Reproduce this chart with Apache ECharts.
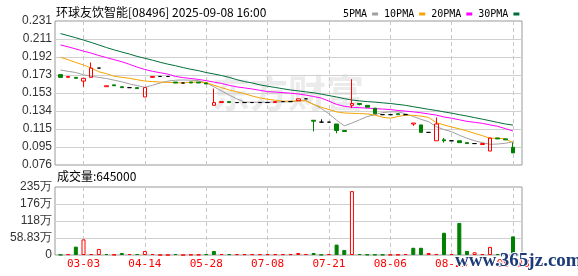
<!DOCTYPE html>
<html><head><meta charset="utf-8">
<script src="https://cdn.jsdelivr.net/npm/echarts@6/dist/echarts.min.js"></script>
<style>html,body{margin:0;padding:0;background:#fff}#c{width:578px;height:276px}</style>
</head><body><div id="c"></div>
<script>
const dates = ['02-24','02-26','02-28','03-03','03-07','03-12','03-17','03-21','03-26','03-31',
'04-08','04-14','04-17','04-24','04-29','05-06','05-12','05-16','05-22','05-28',
'06-03','06-09','06-13','06-18','06-23','06-26','06-30','07-08','07-10','07-11',
'07-14','07-15','07-16','07-17','07-18','07-21','07-22','07-23','07-24','07-25',
'07-28','07-29','07-30','08-06','08-07','08-11','08-13','08-15','08-18','08-20',
'08-22','08-25','08-26','08-27','08-28','08-29','09-01','09-02','09-04','09-08'];
const labelDates = ['03-03','04-14','05-28','07-08','07-21','08-06','08-25','09-08'];
// [open, close, low, high]
const ohlc = [
[0.173,0.170,0.170,0.173],[0.170,0.171,0.170,0.171],[0.170,0.169,0.169,0.170],[0.166,0.169,0.160,0.169],
[0.170,0.180,0.170,0.186],[0.180,0.180,0.180,0.180],[0.160,0.161,0.160,0.161],[0.162,0.161,0.161,0.162],
[0.160,0.159,0.159,0.160],[0.159,0.159,0.159,0.159],[0.159,0.158,0.158,0.159],[0.149,0.159,0.149,0.159],
[0.170,0.171,0.170,0.171],[0.171,0.171,0.171,0.171],[0.171,0.171,0.171,0.171],[0.165,0.164,0.164,0.165],
[0.164,0.164,0.164,0.164],[0.165,0.164,0.164,0.165],[0.165,0.164,0.164,0.165],[0.164,0.163,0.163,0.164],
[0.140,0.143,0.140,0.158],[0.143,0.144,0.143,0.144],[0.144,0.143,0.143,0.144],[0.143,0.143,0.143,0.143],
[0.143,0.143,0.143,0.143],[0.143,0.143,0.143,0.143],[0.143,0.143,0.143,0.143],[0.143,0.143,0.143,0.143],
[0.143,0.144,0.143,0.144],[0.144,0.144,0.144,0.144],[0.144,0.144,0.144,0.144],[0.145,0.147,0.145,0.147],
[0.147,0.147,0.147,0.147],[0.124,0.123,0.112,0.124],[0.122,0.122,0.122,0.125],[0.122,0.122,0.122,0.122],
[0.120,0.113,0.110,0.120],[0.113,0.112,0.112,0.113],[0.140,0.142,0.137,0.168],[0.142,0.141,0.140,0.142],
[0.140,0.138,0.138,0.140],[0.137,0.131,0.131,0.137],[0.130,0.130,0.130,0.130],[0.130,0.130,0.130,0.130],
[0.131,0.130,0.130,0.131],[0.130,0.130,0.130,0.130],[0.120,0.121,0.118,0.121],[0.119,0.111,0.111,0.119],
[0.111,0.111,0.111,0.111],[0.102,0.120,0.102,0.127],[0.103,0.102,0.100,0.105],[0.102,0.102,0.102,0.102],
[0.102,0.100,0.100,0.102],[0.100,0.099,0.099,0.100],[0.099,0.099,0.099,0.099],[0.098,0.099,0.098,0.099],
[0.091,0.105,0.091,0.105],[0.105,0.104,0.104,0.105],[0.104,0.103,0.103,0.104],[0.095,0.089,0.089,0.100]];
const volumes = [10000,30000,290000,540000,35000,210000,35000,10000,70000,35000,
35000,140000,35000,0,0,35000,0,10000,10000,30000,
140000,35000,30000,30000,30000,30000,30000,30000,30000,30000,
30000,70000,35000,70000,10000,35000,360000,175000,2210000,35000,
15000,15000,10000,10000,10000,35000,250000,250000,70000,35000,
770000,35000,1110000,140000,95000,35000,280000,35000,35000,645000];
const ma5 = [0.1779,0.1765,0.1752,0.1728,0.1712,0.1700,0.1688,0.1670,0.1652,0.1630,
0.1612,0.1594,0.1615,0.1640,0.1660,0.1670,0.1672,0.1670,0.1665,0.1640,
0.1600,0.1555,0.1510,0.1470,0.1434,0.1434,0.1434,0.1434,0.1436,0.1438,
0.1440,0.1446,0.1452,0.1410,0.1366,0.1310,0.1240,0.1180,0.1210,0.1245,
0.1280,0.1300,0.1322,0.1330,0.1330,0.1310,0.1280,0.1250,0.1225,0.1170,
0.1140,0.1117,0.1080,0.1047,0.1020,0.1000,0.0982,0.0985,0.0993,0.1010];
const ma10 = [0.1915,0.1890,0.1860,0.1833,0.1800,0.1760,0.1740,0.1712,0.1700,0.1690,
0.1675,0.1661,0.1655,0.1650,0.1647,0.1643,0.1640,0.1650,0.1648,0.1645,
0.1615,0.1590,0.1565,0.1545,0.1525,0.1500,0.1480,0.1465,0.1455,0.1445,
0.1445,0.1448,0.1450,0.1410,0.1380,0.1355,0.1330,0.1318,0.1315,0.1312,
0.1308,0.1295,0.1272,0.1262,0.1280,0.1295,0.1292,0.1285,0.1270,0.1215,
0.1190,0.1168,0.1148,0.1125,0.1100,0.1075,0.1047,0.1047,0.1040,0.1000];
const ma20 = [0.2048,0.2028,0.2005,0.1982,0.1960,0.1935,0.1912,0.1890,0.1868,0.1840,
0.1810,0.1785,0.1765,0.1750,0.1735,0.1710,0.1697,0.1688,0.1678,0.1665,
0.1650,0.1635,0.1615,0.1598,0.1587,0.1575,0.1562,0.1547,0.1543,0.1537,
0.1530,0.1522,0.1510,0.1495,0.1478,0.1445,0.1410,0.1390,0.1380,0.1375,
0.1370,0.1365,0.1360,0.1355,0.1345,0.1338,0.1330,0.1320,0.1308,0.1295,
0.1275,0.1262,0.1245,0.1228,0.1218,0.1207,0.1190,0.1175,0.1150,0.1125];
const ma30 = [0.2170,0.2148,0.2125,0.2100,0.2075,0.2048,0.2020,0.1995,0.1972,0.1950,
0.1925,0.1905,0.1885,0.1862,0.1842,0.1825,0.1805,0.1787,0.1772,0.1752,
0.1737,0.1720,0.1700,0.1675,0.1655,0.1640,0.1620,0.1605,0.1592,0.1578,
0.1565,0.1555,0.1545,0.1535,0.1520,0.1505,0.1490,0.1472,0.1457,0.1448,
0.1440,0.1435,0.1427,0.1420,0.1410,0.1400,0.1385,0.1372,0.1357,0.1345,
0.1330,0.1316,0.1300,0.1285,0.1268,0.1252,0.1235,0.1217,0.1200,0.1188];
const yLabels = ['0.076','0.095','0.115','0.134','0.153','0.173','0.192','0.211','0.231'];
const volLabels = ['0','58.83万','118万','176万','235万'];

const Y_MIN = 0.076, Y_MAX = 0.2305, Y_INT = 0.0193125;
const V_MAX = 2353200, V_INT = 588300;
const RED = '#ff0000', GREEN = '#008000';
const labelSet = new Set(labelDates);
const showLabel = (i, v) => labelSet.has(v);

const candleData = ohlc.map(d => d[0] === d[1]
  ? {value: d, itemStyle: {color: '#000', color0: '#000', borderColor: '#000', borderColor0: '#000'}}
  : d);
const volData = volumes.map((v, i) => {
  const prev = i > 0 ? ohlc[i - 1][1] : ohlc[i][0];
  const up = ohlc[i][1] >= prev;
  return {value: v, itemStyle: up
    ? {color: '#fff', borderColor: RED, borderWidth: 1}
    : {color: GREEN, borderColor: GREEN, borderWidth: 1}};
});
const dash = {color: '#c8c8c8', type: [4, 3], width: 1};
const maLine = (name, data, color) => ({
  name, type: 'line', xAxisIndex: 1, yAxisIndex: 1, data, symbol: 'none', z: 2,
  lineStyle: {width: 1, color}, itemStyle: {color}
});

const chart = echarts.init(document.getElementById('c'));
chart.setOption({
  animation: false,
  textStyle: {fontFamily: 'Liberation Sans'},
  legend: {
    data: ['5PMA', '10PMA', '20PMA', '30PMA'], left: 338, top: 4, align: 'right',
    icon: 'rect', itemWidth: 6, itemHeight: 3, itemGap: 6, selectedMode: false,
    textStyle: {fontFamily: 'DejaVu Sans Mono', fontSize: 10, color: '#000'}
  },
  grid: [
    {left: 55, top: 21, width: 467, height: 144, show: true, borderColor: '#999', borderWidth: 1},
    {left: 60.5, top: 21, width: 452.5, height: 144},
    {left: 55, top: 187, width: 467, height: 68, show: true, borderColor: '#999', borderWidth: 1},
    {left: 60.5, top: 187, width: 452.5, height: 68}
  ],
  xAxis: [
    {gridIndex: 0, type: 'value', min: 0, max: 1, show: false},
    {gridIndex: 1, type: 'category', data: dates, boundaryGap: false,
     axisLine: {show: false}, axisTick: {show: false}, axisLabel: {show: false},
     splitLine: {show: true, interval: showLabel, lineStyle: dash}},
    {gridIndex: 2, type: 'value', min: 0, max: 1, show: false},
    {gridIndex: 3, type: 'category', data: dates, boundaryGap: false,
     axisLine: {show: false}, axisTick: {show: false},
     axisLabel: {show: true, interval: showLabel, color: RED, fontSize: 11, fontFamily: 'DejaVu Sans Mono', margin: 4},
     splitLine: {show: true, interval: showLabel, lineStyle: dash}}
  ],
  yAxis: [
    {gridIndex: 0, type: 'value', min: Y_MIN, max: Y_MAX, interval: Y_INT,
     axisLine: {show: false}, axisTick: {show: false},
     axisLabel: {formatter: v => yLabels[Math.round((v - Y_MIN) / Y_INT)], color: '#333', fontSize: 12, margin: 3},
     splitLine: {show: true, showMinLine: false, showMaxLine: false, lineStyle: {color: '#d0d0d0'}}},
    {gridIndex: 1, type: 'value', min: Y_MIN, max: Y_MAX, show: false, splitLine: {show: false}},
    {gridIndex: 2, type: 'value', min: 0, max: V_MAX, interval: V_INT,
     axisLine: {show: false}, axisTick: {show: false},
     axisLabel: {formatter: v => volLabels[Math.round(v / V_INT)], color: '#333', fontSize: 12, margin: 3},
     splitLine: {show: true, showMinLine: false, showMaxLine: false, lineStyle: {color: '#d0d0d0'}}},
    {gridIndex: 3, type: 'value', min: 0, max: V_MAX, show: false, splitLine: {show: false}}
  ],
  graphic: [
    {type: 'text', z: 0, style: {text: '东方财富', x: 212, y: 93, verticalAlign: 'middle',
      font: 'bold 38px "Noto Sans CJK SC"', fill: '#ebebeb'}},
    {type: 'text', z: 10, style: {text: '环球友饮智能[08496] 2025-09-08 16:00', x: 56, y: 12.5, verticalAlign: 'middle',
      font: '12px "Noto Sans CJK SC"', fill: '#000'}},
    {type: 'text', z: 10, style: {text: '成交量:645000', x: 57, y: 176, verticalAlign: 'middle',
      font: '12px "Noto Sans CJK SC"', fill: '#000'}},
    {type: 'text', z: 100, style: {text: 'www.365jz.com', x: 455, y: 261, verticalAlign: 'middle',
      font: 'bold 19px "Liberation Serif"', fill: '#1c3b78', stroke: '#ffffff', lineWidth: 2}}
  ],
  series: [
    maLine('5PMA', ma5, '#a0a0a0'),
    maLine('10PMA', ma10, '#f5a400'),
    maLine('20PMA', ma20, '#ff00ff'),
    maLine('30PMA', ma30, '#006f3a'),
    {name: 'K', type: 'candlestick', xAxisIndex: 1, yAxisIndex: 1, data: candleData, barWidth: 4, clip: false, z: 3,
     itemStyle: {color: 'rgba(255,255,255,0)', color0: GREEN, borderColor: RED, borderColor0: GREEN, borderWidth: 1}},
    {name: 'VOL', type: 'bar', xAxisIndex: 3, yAxisIndex: 3, data: volData, barWidth: 4, clip: false}
  ]
});
</script>
</body></html>
